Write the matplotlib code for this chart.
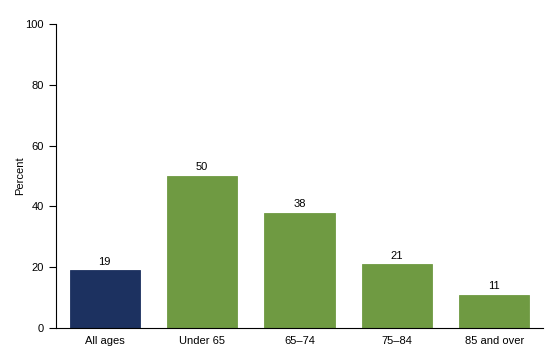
import matplotlib.pyplot as plt
import numpy as np

plt.rcParams['font.family'] = ['Liberation Sans', 'DejaVu Sans']

# Data
categories = ['All ages', 'Under 65', '65\u201374', '75\u201384', '85 and over']
values = [19, 50, 38, 21, 11]
colors = ['#1c3160', '#6f9a42', '#6f9a42', '#6f9a42', '#6f9a42']

fig = plt.figure(figsize=(5.6, 3.6), dpi=100)
ax = fig.add_axes([0.1, 0.089, 0.8696, 0.844])

x = np.arange(len(categories))
bars = ax.bar(x, values, width=0.72, color=colors, edgecolor=colors, linewidth=0.6)

for xi, v in zip(x, values):
    ax.text(xi, v + 1.2, str(v), ha='center', va='bottom', fontsize=8)

ax.set_xlim(-0.5, len(categories) - 0.5)
ax.set_ylim(0, 100)
ax.set_yticks(range(0, 101, 20))
ax.set_xticks(x)
ax.set_xticklabels(categories)
ax.tick_params(axis='x', length=0, pad=6, labelsize=8)
ax.tick_params(axis='y', length=5, width=0.8, labelsize=8, pad=4)
ax.set_ylabel('Percent', fontsize=8)
ax.yaxis.set_label_coords(-0.064, 0.5)

for side in ['top', 'right']:
    ax.spines[side].set_visible(False)
ax.spines['left'].set_linewidth(0.8)
ax.spines['bottom'].set_linewidth(0.8)

fig.savefig('out.png', dpi=100)
